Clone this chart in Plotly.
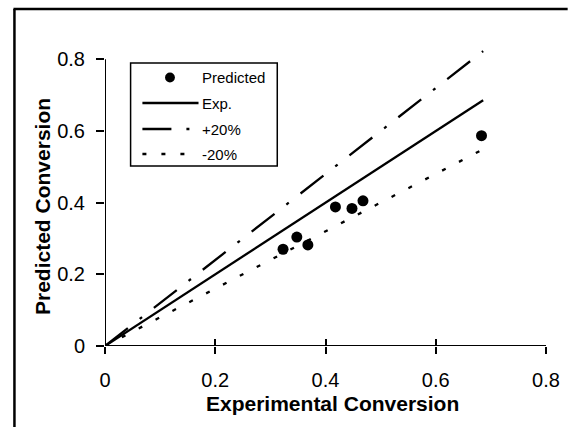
import plotly.graph_objects as go

# ---- data ----
pred_x = [0.323, 0.348, 0.368, 0.418, 0.448, 0.468, 0.683]
pred_y = [0.270, 0.304, 0.282, 0.388, 0.384, 0.405, 0.587]

exp_x = [0.0, 0.686]
exp_y = [0.0, 0.686]
plus_x = [0.0, 0.686]
plus_y = [0.0, 0.823]
minus_x = [0.0, 0.686]
minus_y = [0.0, 0.549]

tick_vals = [0, 0.2, 0.4, 0.6, 0.8]
tick_text = ["0", "0.2", "0.4", "0.6", "0.8"]
legend_labels = ["Predicted", "Exp.", "+20%", "-20%"]

W, H = 572, 427
ML, MR, MT, MB = 105, 19, 45, 81
PW, PH = W - ML - MR, H - MT - MB
FONT = "Liberation Sans, Arial, sans-serif"

def px(xp):
    return (xp - ML) / PW

def py(yp):
    return (H - MB - yp) / PH

LW = 2.3
DASH_PLUS = "29px,15px,3px,15px"
DASH_MINUS = "4px,15px"

fig = go.Figure()
fig.add_trace(go.Scatter(x=exp_x, y=exp_y, mode="lines", name="Exp.",
                         line=dict(color="black", width=LW), showlegend=False))
fig.add_trace(go.Scatter(x=plus_x, y=plus_y, mode="lines", name="+20%",
                         line=dict(color="black", width=LW, dash=DASH_PLUS), showlegend=False))
fig.add_trace(go.Scatter(x=minus_x, y=minus_y, mode="lines", name="-20%",
                         line=dict(color="black", width=LW, dash=DASH_MINUS), showlegend=False))
fig.add_trace(go.Scatter(x=pred_x, y=pred_y, mode="markers", name="Predicted",
                         marker=dict(color="black", size=11), showlegend=False))
# invisible trace for overlay x axis (crossing ticks)
fig.add_trace(go.Scatter(x=[0], y=[0], xaxis="x2", mode="markers",
                         marker=dict(opacity=0), showlegend=False, hoverinfo="skip"))

axis_common = dict(showgrid=False, zeroline=False, showline=False,
                   tickcolor="black", tickwidth=2,
                   tickfont=dict(family=FONT, size=20, color="black"))

fig.update_layout(
    width=W, height=H,
    margin=dict(l=ML, r=MR, t=MT, b=MB),
    paper_bgcolor="white", plot_bgcolor="white",
    xaxis=dict(range=[0, 0.8], tickvals=tick_vals, ticktext=tick_text,
               ticks="outside", ticklen=7, ticklabelstandoff=9, **axis_common),
    xaxis2=dict(range=[0, 0.8], tickvals=tick_vals, overlaying="x", anchor="y",
                side="bottom", ticks="inside", ticklen=7, showticklabels=False,
                showgrid=False, zeroline=False, showline=False,
                tickcolor="black", tickwidth=2),
    yaxis=dict(range=[0, 0.84], tickvals=tick_vals, ticktext=tick_text,
               ticks="outside", ticklen=8, ticklabelstandoff=7, **axis_common),
    showlegend=False,
)

shapes = []
# axis lines
shapes.append(dict(type="line", xref="x", yref="y", x0=0, y0=0, x1=0, y1=0.8,
                   line=dict(color="black", width=2)))
shapes.append(dict(type="line", xref="x", yref="y", x0=0, y0=0, x1=0.8, y1=0,
                   line=dict(color="black", width=2)))
# outer frame (left and top)
shapes.append(dict(type="line", xref="paper", yref="paper", x0=px(13), y0=py(9),
                   x1=px(13), y1=py(430), line=dict(color="black", width=2.5)))
shapes.append(dict(type="line", xref="paper", yref="paper", x0=px(12), y0=py(9),
                   x1=px(575), y1=py(9), line=dict(color="black", width=2.5)))
# legend box
shapes.append(dict(type="rect", xref="paper", yref="paper", x0=px(131), y0=py(166),
                   x1=px(280), y1=py(63), line=dict(color="black", width=1.5),
                   fillcolor="white", layer="above"))
rows = [77.5, 103, 129, 154]
# legend marker
shapes.append(dict(type="circle", xref="paper", yref="paper", x0=px(166), x1=px(176),
                   y0=py(rows[0] + 5), y1=py(rows[0] - 5), fillcolor="black",
                   line=dict(color="black", width=0), layer="above"))
for r, dash in zip(rows[1:], ["solid", DASH_PLUS, DASH_MINUS]):
    shapes.append(dict(type="line", xref="paper", yref="paper", x0=px(143), x1=px(200),
                       y0=py(r), y1=py(r), line=dict(color="black", width=LW, dash=dash),
                       layer="above"))
fig.update_layout(shapes=shapes)

annotations = []
for r, lab in zip(rows, legend_labels):
    annotations.append(dict(text=lab, xref="paper", yref="paper", x=px(201), y=py(r),
                            xanchor="left", yanchor="middle", showarrow=False,
                            font=dict(family=FONT, size=15, color="black")))
annotations.append(dict(text="<b>Experimental Conversion</b>", xref="paper", yref="paper",
                        x=px(336), y=py(403), xanchor="center", yanchor="middle",
                        showarrow=False, font=dict(family=FONT, size=21, color="black")))
annotations.append(dict(text="<b>Predicted Conversion</b>", xref="paper", yref="paper",
                        x=px(41), y=py(207), xanchor="center", yanchor="middle",
                        textangle=-90, showarrow=False,
                        font=dict(family=FONT, size=21, color="black")))
fig.update_layout(annotations=annotations)

fig.write_html("out.html")
